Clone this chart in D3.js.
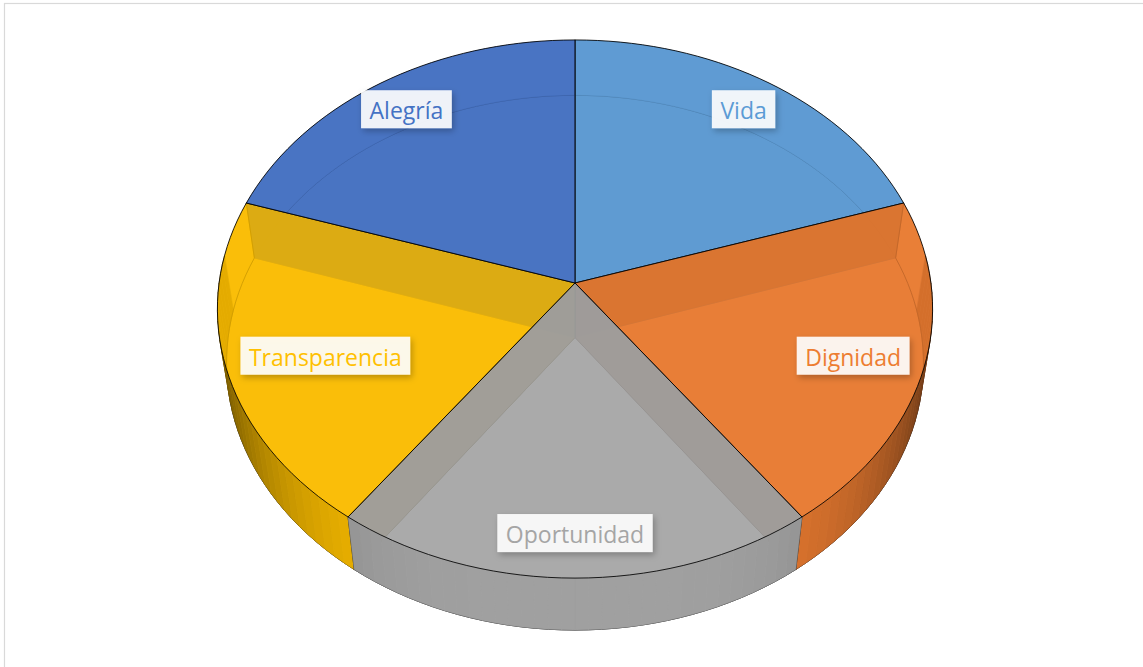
<!DOCTYPE html>
<html>
<head>
<meta charset="utf-8">
<script src="https://cdn.jsdelivr.net/npm/d3@7"></script>
<style>
  body { margin: 0; background: #fff; }
  svg { display: block; }
</style>
</head>
<body>
<svg id="chart" width="1143" height="667"></svg>
<script>
// data (five equal slices, clockwise from 12 o'clock)
const categories = ["Vida", "Dignidad", "Oportunidad", "Transparencia", "Alegría"];
const values = [1, 1, 1, 1, 1];
const colors = ["#5B9BD5", "#ED7D31", "#A5A5A5", "#FFC000", "#4472C4"];

const W = 1143, H = 667;
const cx = 575, cy = 283;              // screen position of the pie centre (top face)
const tilt = 48.5 * Math.PI / 180;     // elevation of the view
const camDist = 6.85, focal = 2438;     // perspective (radius = 1)
const thick = 0.237;                    // pie height, in radius units
const step = Math.PI / 90;

const svg = d3.select("#chart");

// chart area border
svg.append("rect")
    .attr("x", 4.5).attr("y", 3.5)
    .attr("width", W + 10).attr("height", H + 10)
    .attr("fill", "none").attr("stroke", "#d9d9d9").attr("stroke-width", 1.2);

const defs = svg.append("defs");
const shadow = defs.append("filter").attr("id", "lblShadow")
    .attr("x", "-20%").attr("y", "-30%").attr("width", "150%").attr("height", "180%");
shadow.append("feDropShadow")
    .attr("dx", 2).attr("dy", 3).attr("stdDeviation", 3)
    .attr("flood-color", "#000").attr("flood-opacity", 0.28);

// angle a clockwise from top, y = 0 top face, y = -thick bottom face
function project(r, a, y) {
    const X = r * Math.sin(a), Z = r * Math.cos(a);
    const Yp = y * Math.cos(tilt) + Z * Math.sin(tilt);
    const d = Z * Math.cos(tilt) - y * Math.sin(tilt);
    const s = focal / (camDist + d);
    return [cx + X * s, cy - Yp * s, d];
}

function shade(c, k) {
    const col = d3.rgb(c);
    return d3.rgb(col.r * k, col.g * k, col.b * k).formatHex();
}

function angles(a0, a1) {
    const n = Math.max(2, Math.ceil((a1 - a0) / step));
    return d3.range(n + 1).map(i => a0 + (a1 - a0) * i / n);
}

const pie = d3.pie().sort(null).value(d => d)(values);

const bottoms = [], mids = [], tops = [];
const avgDepth = pts => d3.mean(pts, p => p[2]);

pie.forEach((sl, i) => {
    const col = colors[i];
    const grey = categories[i] === "Oportunidad";   // this slice is see-through
    const op = grey ? 0.72 : 0.82;
    const as = angles(sl.startAngle, sl.endAngle);
    const topRim = as.map(a => project(1, a, 0));
    const botRim = as.map(a => project(1, a, -thick));
    const c0 = project(0, 0, 0), c1 = project(0, 0, -thick);

    tops.push({ pts: [c0, ...topRim], fill: col, op: op, stroke: "#000", sw: 1, sop: 0.85 });
    bottoms.push({ pts: [c1, ...botRim], fill: shade(col, grey ? 1 : 0.85), op: 0.8, stroke: "#333", sw: 0.8, sop: 0.4 });

    [sl.startAngle, sl.endAngle].forEach(a => {
        const w = [c0, project(1, a, 0), project(1, a, -thick), c1];
        mids.push({ pts: w, d: avgDepth(w) - (grey ? 1e-6 : 0), fill: shade(col, grey ? 0.88 : 0.62),
            op: 0.8, stroke: "#555", sw: 0.8, sop: 0.35 });
    });

    // outer wall: shaded strips where it faces the viewer, one flat piece behind
    const back = [];
    for (let k = 0; k < as.length - 1; k++) {
        const m = (as[k] + as[k + 1]) / 2;
        if (Math.cos(m) >= 0.1) { back.push(k); continue; }
        const q = [topRim[k], topRim[k + 1], botRim[k + 1], botRim[k]];
        const lit = 0.97 - 0.55 * Math.pow(Math.abs(Math.sin(m)), 4);
        const f = shade(col, lit);
        mids.push({ pts: q, d: avgDepth(q), fill: f, op: 1, stroke: f, sw: 0.6, sop: 1 });
    }
    if (back.length) {
        const k0 = back[0], k1 = back[back.length - 1] + 1;
        const q = [...topRim.slice(k0, k1 + 1), ...botRim.slice(k0, k1 + 1).reverse()];
        mids.push({ pts: q, d: avgDepth(q), fill: shade(col, 0.86), op: 0.8, stroke: "none", sw: 0, sop: 0 });
    }
    // outline of the outer side: bottom rim and the two vertical edges
    const outline = [topRim[0], ...botRim, topRim[topRim.length - 1]];
    mids.push({ pts: outline, d: avgDepth(botRim) - 0.001, fill: "none", op: 1, stroke: "#000", sw: 1, sop: 0.85, open: true });
});

mids.sort((a, b) => b.d - a.d);

const line = d3.line().x(p => p[0]).y(p => p[1]);
function draw(list, cls) {
    svg.append("g").attr("class", cls)
        .selectAll("path").data(list).join("path")
        .attr("d", f => line(f.pts) + (f.open ? "" : "Z"))
        .attr("fill", f => f.fill)
        .attr("fill-opacity", f => f.op)
        .attr("stroke", f => f.stroke)
        .attr("stroke-width", f => f.sw)
        .attr("stroke-opacity", f => f.sop)
        .attr("stroke-linejoin", "round");
}
draw(bottoms, "bottoms");
draw(mids, "sides");
draw(tops, "tops");

// data labels
const labelR = 0.86;
const edgeMax = 0.94 * (project(1, Math.PI / 2, 0)[0] - cx);
const lg = svg.append("g").attr("class", "labels");
pie.forEach((sl, i) => {
    const mid = (sl.startAngle + sl.endAngle) / 2;
    const p = project(labelR, mid, 0);
    const g = lg.append("g");
    const rect = g.append("rect").attr("fill", "#fff").attr("fill-opacity", 0.9)
        .attr("filter", "url(#lblShadow)");
    const t = g.append("text")
        .attr("font-family", "'Open Sans', 'Noto Sans', sans-serif")
        .attr("font-size", 23)
        .attr("fill", colors[i])
        .attr("text-anchor", "middle")
        .attr("dominant-baseline", "central")
        .text(categories[i]);
    const tw = t.node().getComputedTextLength();
    const bw = tw + 17, bh = 38;
    let x = p[0];
    if (x + bw / 2 > cx + edgeMax) x = cx + edgeMax - bw / 2;
    if (x - bw / 2 < cx - edgeMax) x = cx - edgeMax + bw / 2;
    rect.attr("x", x - bw / 2).attr("y", p[1] - bh / 2).attr("width", bw).attr("height", bh);
    t.attr("x", x).attr("y", p[1] + 1);
});
</script>
</body>
</html>
